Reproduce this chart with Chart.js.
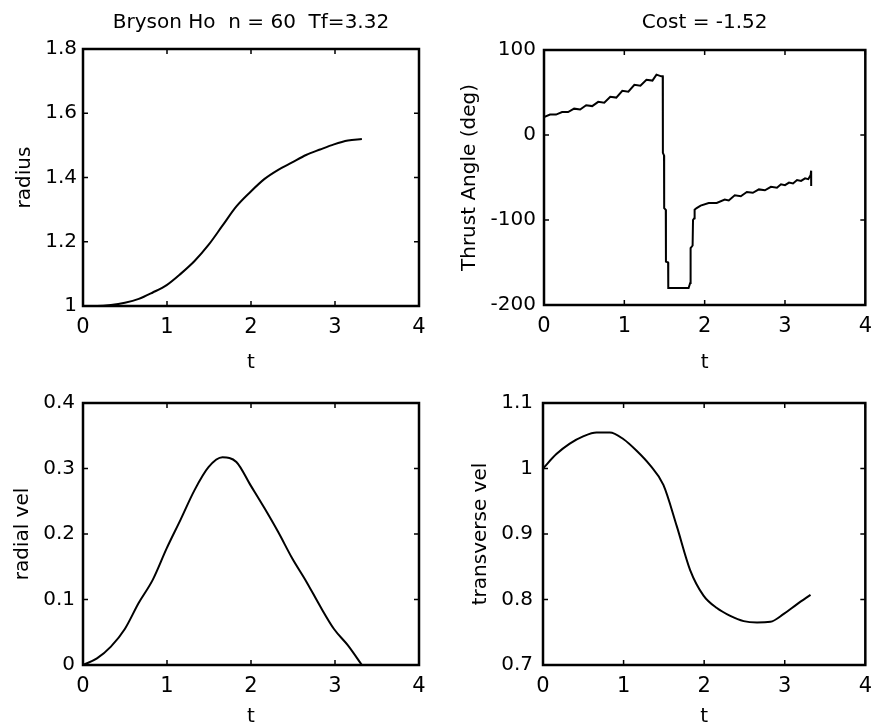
<!DOCTYPE html>
<html>
<head>
<meta charset="utf-8">
<script src="https://cdn.jsdelivr.net/npm/chart.js@4.4.1/dist/chart.umd.min.js"></script>
<style>
  html, body { margin: 0; padding: 0; background: #ffffff; }
  #wrap { position: relative; width: 881px; height: 727px; background: #ffffff; }
  canvas { position: absolute; left: 0; top: 0; }
</style>
</head>
<body>
<div id="wrap">
  <canvas id="c1" width="881" height="727"></canvas>
  <canvas id="c2" width="881" height="727"></canvas>
  <canvas id="c3" width="881" height="727"></canvas>
  <canvas id="c4" width="881" height="727"></canvas>
</div>
<script>
// ---------------- data ----------------
const tSmooth = [0, 0.166, 0.332, 0.498, 0.664, 0.83, 0.996, 1.162, 1.328, 1.494, 1.66,
                 1.826, 1.992, 2.158, 2.324, 2.49, 2.656, 2.822, 2.988, 3.154, 3.32];
const radius = [1.0, 1.0, 1.003, 1.01, 1.022, 1.042, 1.065, 1.10, 1.14, 1.19, 1.25,
                1.31, 1.355, 1.395, 1.424, 1.447, 1.47, 1.487, 1.503, 1.515, 1.52];
const radialVel = [0, 0.01, 0.028, 0.055, 0.095, 0.13, 0.178, 0.222, 0.267, 0.302, 0.317,
                   0.31, 0.275, 0.24, 0.203, 0.163, 0.128, 0.09, 0.055, 0.03, 0.0];
const transverseVel = [1.0, 1.022, 1.038, 1.049, 1.055, 1.055, 1.045, 1.027, 1.005, 0.975, 0.912,
                       0.845, 0.806, 0.787, 0.775, 0.767, 0.765, 0.766, 0.778, 0.793, 0.807];

const tThrust = [0, 0.075, 0.15, 0.225, 0.3, 0.375, 0.45, 0.525, 0.6, 0.675, 0.75, 0.825, 0.9, 0.975,
                 1.05, 1.125, 1.2, 1.275, 1.35, 1.4, 1.46, 1.478, 1.48, 1.494, 1.496, 1.516, 1.518,
                 1.545, 1.547, 1.8, 1.82, 1.825, 1.85, 1.855, 1.87, 1.875, 1.9, 1.95, 2.05, 2.15,
                 2.25, 2.3, 2.375, 2.45, 2.525, 2.6, 2.675, 2.75, 2.825, 2.9, 2.95, 3.0, 3.05, 3.1,
                 3.15, 3.2, 3.25, 3.29, 3.32, 3.325, 3.326];
const thrustAngle = [21, 24, 24, 27, 27, 31, 30, 35, 34, 39, 38, 45, 44, 52,
                     51, 59, 58, 65, 64, 71, 69, 69, -21, -24, -86, -88, -149,
                     -150, -180, -180, -174, -133, -130, -100, -98, -88, -86, -83, -80, -80,
                     -76, -77, -71, -72, -67, -68, -64, -65, -61, -62, -58, -59, -56, -57,
                     -53, -54, -51, -52, -47, -42, -60];

const xTickValues = [0, 1, 2, 3, 4];
const titles = ['Bryson Ho  n = 60  Tf=3.32', 'Cost = -1.52'];
const yLabels = ['radius', 'Thrust Angle (deg)', 'radial vel', 'transverse vel'];
const xLabel = 't';

// ---------------- rendering ----------------
Chart.defaults.font.family = '"DejaVu Sans", Verdana, sans-serif';
Chart.defaults.font.size = 20;
Chart.defaults.color = '#000000';

const framePlugin = {
  id: 'frame',
  afterDatasetsDraw(chart) {
    const { ctx, chartArea: a, scales } = chart;
    const x = scales.x, y = scales.y;
    ctx.save();
    ctx.strokeStyle = '#000';
    ctx.lineWidth = 2.5;
    ctx.strokeRect(a.left, a.top, a.right - a.left, a.bottom - a.top);
    ctx.lineWidth = 1.5;
    ctx.beginPath();
    x.ticks.forEach(t => {
      const px = x.getPixelForValue(t.value);
      ctx.moveTo(px, a.bottom); ctx.lineTo(px, a.bottom - 5);
      ctx.moveTo(px, a.top); ctx.lineTo(px, a.top + 5);
    });
    y.ticks.forEach(t => {
      const py = y.getPixelForValue(t.value);
      ctx.moveTo(a.left, py); ctx.lineTo(a.left + 5, py);
      ctx.moveTo(a.right, py); ctx.lineTo(a.right - 5, py);
    });
    ctx.stroke();
    ctx.restore();
  }
};

function toPoints(xs, ys) { return xs.map((v, i) => ({ x: v, y: ys[i] })); }
const fmt = v => String(Number(Number(v).toFixed(3)));

function makeChart(id, o) {
  const scales = {
    x: {
      type: 'linear', position: 'bottom', min: 0, max: 4,
      afterBuildTicks: s => { s.ticks = xTickValues.map(v => ({ value: v })); },
      grid: { display: false, drawTicks: false },
      border: { display: false },
      ticks: { padding: o.xTickPad, font: { size: 21 }, callback: fmt },
      title: { display: true, text: xLabel, font: { size: 20, lineHeight: 1 }, padding: { top: 0, bottom: 0 } },
      afterFit: s => { s.height = o.xH; }
    },
    y: {
      type: 'linear', position: 'left', min: o.yMin, max: o.yMax,
      ticks: { stepSize: o.yStep, padding: o.yTickPad, callback: fmt },
      grid: { display: false, drawTicks: false },
      border: { display: false },
      title: { display: true, text: o.yLabel, font: { size: 20, lineHeight: 1 }, padding: { top: o.yTitlePad, bottom: 0 } },
      afterFit: s => { s.width = o.yW; }
    }
  };
  if (o.title) {
    scales.xTop = {
      type: 'linear', axis: 'x', position: 'top', min: 0, max: 4,
      grid: { display: false, drawTicks: false },
      border: { display: false },
      ticks: { display: false },
      title: { display: true, text: o.title, font: { size: 20, lineHeight: 1 }, padding: { top: o.titlePad, bottom: 0 } },
      afterFit: s => { s.height = o.area.top; }
    };
  }
  return new Chart(document.getElementById(id), {
    type: 'line',
    data: {
      datasets: [{
        data: toPoints(o.xs, o.ys),
        borderColor: '#000000',
        borderWidth: 2,
        pointRadius: 0,
        fill: false,
        tension: o.smooth ? 0.4 : 0,
        cubicInterpolationMode: o.smooth ? 'monotone' : 'default'
      }]
    },
    options: {
      responsive: false,
      animation: false,
      devicePixelRatio: 1,
      layout: {
        padding: {
          left: o.area.left - o.yW,
          right: 881 - o.area.right,
          top: o.title ? 0 : o.area.top,
          bottom: 727 - o.area.bottom - o.xH
        }
      },
      plugins: { legend: { display: false }, tooltip: { enabled: false } },
      scales
    },
    plugins: [framePlugin]
  });
}

makeChart('c1', {
  xs: tSmooth, ys: radius, smooth: true,
  yMin: 1, yMax: 1.8, yStep: 0.2, yLabel: yLabels[0], title: titles[0],
  area: { left: 83, right: 419, top: 49, bottom: 306 },
  yW: 80, yTitlePad: 12, yTickPad: 6, xH: 67, xTickPad: 9, titlePad: 13
});
makeChart('c2', {
  xs: tThrust, ys: thrustAngle, smooth: false,
  yMin: -200, yMax: 100, yStep: 100, yLabel: yLabels[1], title: titles[1],
  area: { left: 544, right: 876, top: 50, bottom: 305 },
  yW: 90, yTitlePad: 6, yTickPad: 8, xH: 68, xTickPad: 9, titlePad: 13
});
makeChart('c3', {
  xs: tSmooth, ys: radialVel, smooth: true,
  yMin: 0, yMax: 0.4, yStep: 0.1, yLabel: yLabels[2], title: null,
  area: { left: 83, right: 419, top: 403, bottom: 665 },
  yW: 80, yTitlePad: 10, yTickPad: 8, xH: 62, xTickPad: 9
});
makeChart('c4', {
  xs: tSmooth, ys: transverseVel, smooth: true,
  yMin: 0.7, yMax: 1.1, yStep: 0.1, yLabel: yLabels[3], title: null,
  area: { left: 543, right: 875, top: 403, bottom: 665 },
  yW: 90, yTitlePad: 18, yTickPad: 10, xH: 62, xTickPad: 9
});
</script>
</body>
</html>
